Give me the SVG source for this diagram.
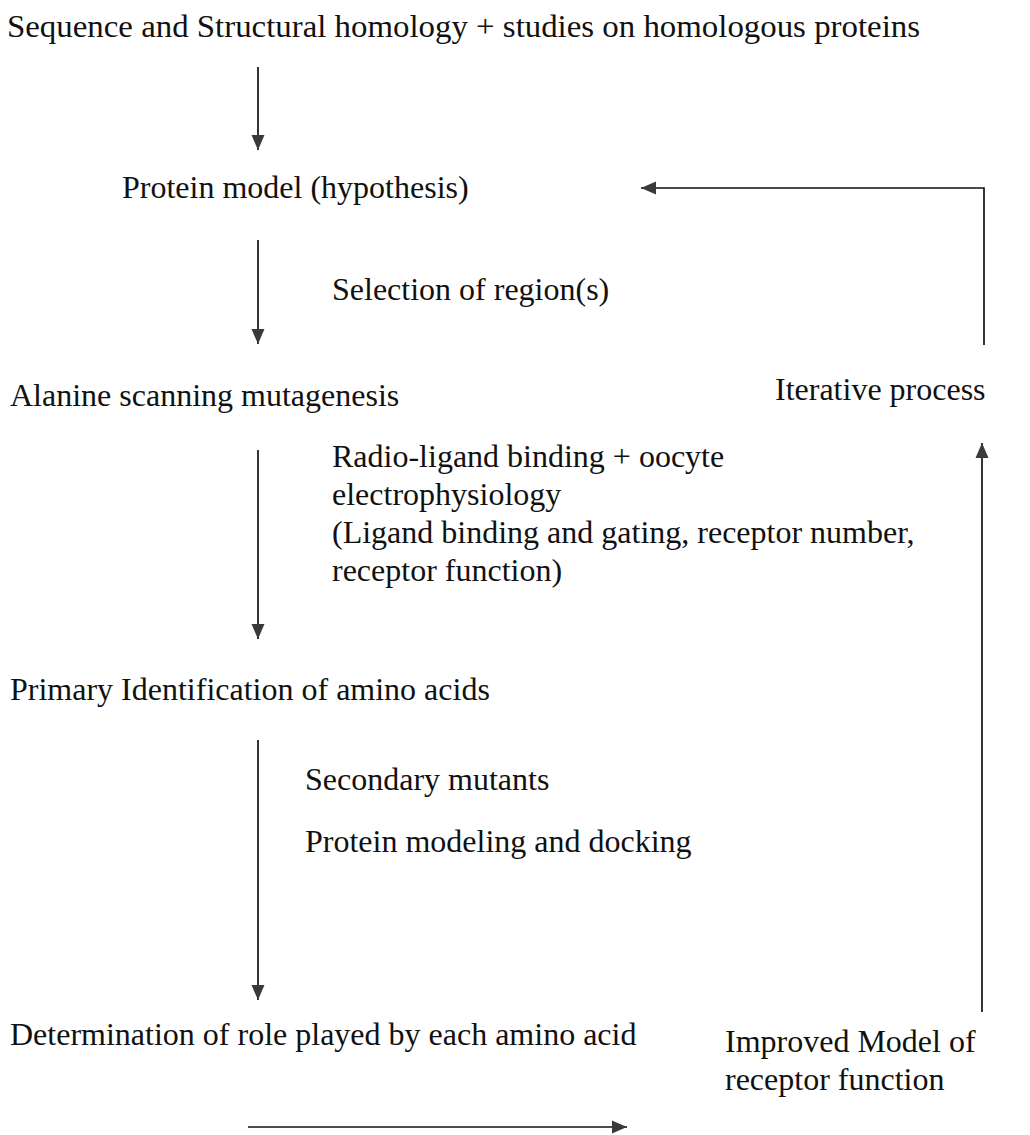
<svg xmlns="http://www.w3.org/2000/svg" width="1030" height="1135" viewBox="0 0 1030 1135">
<style>
text{font-family:"Liberation Serif","Times New Roman",serif;font-size:32px;fill:#111}
.c{stroke:#111;stroke-width:1.7;fill:none}
</style>
<defs>
<marker id="ah" markerWidth="16" markerHeight="14" refX="15" refY="7" orient="auto" markerUnits="userSpaceOnUse">
<path d="M0,0.5 L15,7 L0,13.5 Z" fill="#3a3a3a"/>
</marker>
</defs>
<rect width="1030" height="1135" fill="#fff"/>
<g id="connectors">
<line class="c" x1="258" y1="67" x2="258" y2="150" marker-end="url(#ah)"/>
<line class="c" x1="258" y1="240" x2="258" y2="344" marker-end="url(#ah)"/>
<line class="c" x1="258" y1="450" x2="258" y2="639" marker-end="url(#ah)"/>
<line class="c" x1="258" y1="740" x2="258" y2="1000" marker-end="url(#ah)"/>
<line class="c" x1="248" y1="1127" x2="627" y2="1127" marker-end="url(#ah)"/>
<line class="c" x1="982" y1="1012" x2="982" y2="443" marker-end="url(#ah)"/>
<polyline class="c" points="984,345 984,188 641,188" marker-end="url(#ah)"/>
</g>
<g id="n-sequence"><text x="7" y="37" textLength="913" lengthAdjust="spacingAndGlyphs">Sequence and Structural homology + studies on homologous proteins</text></g>
<g id="n-model"><text x="122" y="198">Protein model (hypothesis)</text></g>
<g id="l-selection"><text x="332" y="300">Selection of region(s)</text></g>
<g id="n-alanine"><text x="10" y="406">Alanine scanning mutagenesis</text></g>
<g id="l-iterative"><text x="775" y="400">Iterative process</text></g>
<g id="l-radio">
<text x="332" y="467">Radio-ligand binding + oocyte</text>
<text x="332" y="505">electrophysiology</text>
<text x="332" y="543">(Ligand binding and gating, receptor number,</text>
<text x="332" y="581">receptor function)</text>
</g>
<g id="n-primary"><text x="10" y="700">Primary Identification of amino acids</text></g>
<g id="l-secondary"><text x="305" y="790">Secondary mutants</text></g>
<g id="l-modeling"><text x="305" y="852">Protein modeling and docking</text></g>
<g id="n-determination"><text x="10" y="1045">Determination of role played by each amino acid</text></g>
<g id="n-improved">
<text x="725" y="1052">Improved Model of</text>
<text x="725" y="1090">receptor function</text>
</g>
</svg>
